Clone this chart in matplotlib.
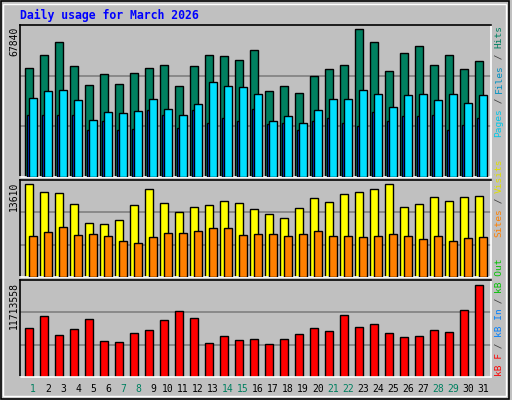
import matplotlib
matplotlib.use("Agg")
import matplotlib.pyplot as plt
from matplotlib.patches import Rectangle
import numpy as np

days = list(range(1, 32))
weekend = [1, 7, 8, 14, 15, 21, 22, 28, 29]
hits_max = 67840
visits_max = 13610
kbf_max = 11713558
# values read as fractions of the max (pixel heights / max pixel height)
hits_px = [108,121,134,110,91,102,92,103,108,111,90,110,121,120,116,126,85,90,83,100,107,111,147,134,105,123,130,111,121,107,115]
files_px = [78,85,86,76,57,65,64,66,77,68,62,73,94,90,89,82,56,61,54,67,77,77,86,82,70,81,82,76,82,74,81]
pages_px = [62,62,62,62,47,56,47,48,67,62,49,67,54,59,56,68,53,54,47,56,59,54,51,65,56,61,61,62,47,52,59]
hits = [round(p / 147 * hits_max) for p in hits_px]
files = [round(p / 147 * hits_max) for p in files_px]
pages = [round(p / 147 * hits_max) for p in pages_px]
visits_px = [277,253,250,217,160,157,169,214,262,220,193,208,214,226,220,202,187,175,205,235,223,247,253,262,277,208,217,238,226,238,241]
sites_px = [121,133,148,124,127,121,106,100,118,130,130,136,145,145,124,127,127,121,127,136,121,121,118,121,127,121,112,121,106,115,118]
visits = [round(p / 277 * visits_max) for p in visits_px]
sites = [round(p / 277 * visits_max) for p in sites_px]
kbf_px = [145,181,124,142,172,106,103,130,139,169,196,175,100,121,109,112,97,112,127,145,136,184,148,157,130,118,121,139,133,199,274]
kbf = [round(p / 274 * kbf_max) for p in kbf_px]

W, H = 512, 400
fig = plt.figure(figsize=(5.12, 4.0), dpi=100)
fig.patch.set_facecolor("#C0C0C0")
mono = "DejaVu Sans Mono"

def ax_px(x0, y0, x1, y1):
    return fig.add_axes([x0 / W, 1 - y1 / H, (x1 - x0) / W, (y1 - y0) / H])

# frame
fig.add_artist(Rectangle((1 / W, 1 / H), 508 / W, 398 / H, transform=fig.transFigure,
                         fill=False, edgecolor="black", lw=1.2))
fig.add_artist(Rectangle((3 / W, 4 / H), 503 / W, 392 / H, transform=fig.transFigure,
                         fill=False, edgecolor="white", lw=1))

xl = (0, 471 / 15)
x = np.arange(31)

def panel(y0, y1, pxh):
    ax = ax_px(20, y0, 491, y1)
    ax.set_facecolor("#C0C0C0")
    ax.set_xlim(*xl)
    ax.set_ylim(0, 1)
    ax.set_xticks([]); ax.set_yticks([])
    for s in ax.spines.values():
        s.set_color("black"); s.set_linewidth(1.2)
    ax.spines["right"].set_color("white")
    ax.spines["bottom"].set_color("white")
    for g in (1 / 3, 2 / 3):
        ax.axhline(g, color="#808080", lw=1.2, zorder=0)
    return ax

# top panel
ax1 = panel(25, 177, 151)
top = 151
ax1.bar(x + 0.353, [h / hits_max * 147 / top for h in hits], width=0.5, align="edge",
        color="#008060", edgecolor="black", lw=1, zorder=2)
ax1.bar(x + 0.44, [h / hits_max * 147 / top for h in pages], width=0.3, align="edge",
        color="#0040FF", edgecolor="black", lw=1, zorder=3)
ax1.bar(x + 0.62, [h / hits_max * 147 / top for h in files], width=0.5, align="edge",
        color="#00E0FF", edgecolor="black", lw=1, zorder=4)

ax2 = panel(180, 277, 96)
ax2.bar(x + 0.353, [v / visits_max * 92 / 96 for v in visits], width=0.53, align="edge",
        color="#FFFF00", edgecolor="black", lw=1, zorder=2)
ax2.bar(x + 0.62, [v / visits_max * 92 / 96 for v in sites], width=0.53, align="edge",
        color="#FF8000", edgecolor="black", lw=1, zorder=3)

ax3 = panel(280, 377, 96)
ax3.bar(x + 0.353, [v / kbf_max * 91 / 96 for v in kbf], width=0.5, align="edge",
        color="#FF0000", edgecolor="black", lw=1, zorder=2)

# title
fig.text(20 / W, 1 - 15 / H, "Daily usage for March 2026", color="#0000FF",
         family=mono, fontsize=8.3, fontweight="bold", va="center", ha="left")

# left labels
for lab, ytop in (("67840", 27), ("13610", 182), ("11713558", 282)):
    fig.text(14 / W, 1 - ytop / H, lab, rotation=90, family=mono, fontsize=7,
             va="top", ha="center", color="black")

# right labels (bottom-to-top segments)
def rlabel(segments, ybottom):
    y = ybottom
    for txt, col in segments:
        fig.text(499 / W, 1 - y / H, txt, rotation=90, family=mono, fontsize=6.8,
                 color=col, va="bottom", ha="center")
        y -= len(txt) * 5.55

rlabel([("Pages", "#00C8E8"), (" / ", "#404040"), ("Files", "#0090C0"),
        (" / ", "#404040"), ("Hits", "#008060")], 137)
rlabel([("Sites", "#FF8000"), (" / ", "#404040"), ("Visits", "#E0E000")], 237)
rlabel([("kB F", "#FF0000"), (" / ", "#404040"), ("kB In", "#0080FF"),
        (" / ", "#404040"), ("kB Out", "#00C000")], 376)

# day labels
for d in days:
    px = 20 + (d - 1) * 15 + 13
    col = "#008060" if d in weekend else "black"
    fig.text(px / W, 1 - 389 / H, str(d), family=mono, fontsize=7, color=col,
             ha="center", va="center")

fig.savefig("out.png", dpi=100, facecolor=fig.get_facecolor())
